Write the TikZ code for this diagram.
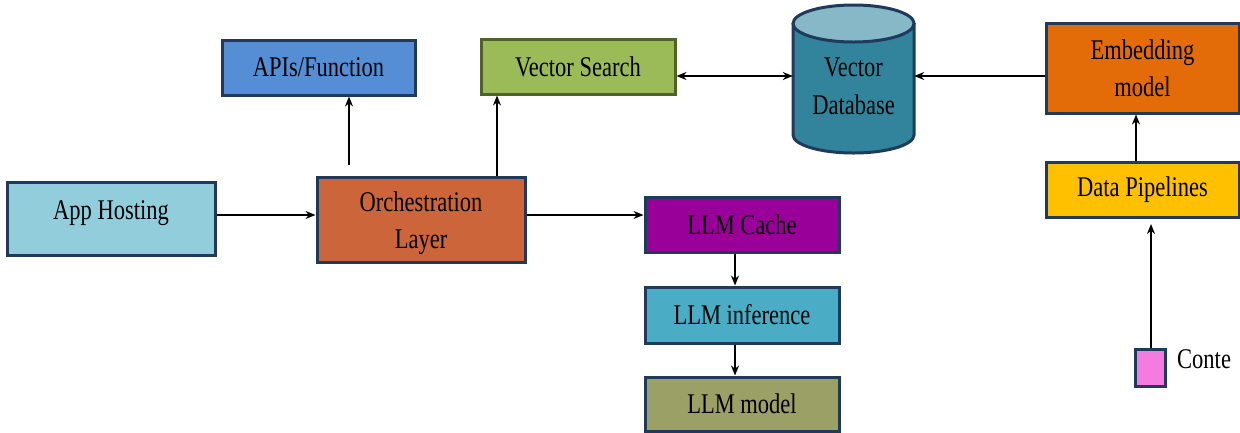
\documentclass[tikz,border=0pt]{standalone}
\usepackage{fontspec}
\setmainfont{Liberation Serif}[FakeStretch=0.79]
\usetikzlibrary{arrows.meta}
\definecolor{navy}{HTML}{1F3A5A}
\definecolor{dgreen}{HTML}{4F6228}
\definecolor{cApp}{HTML}{92CDDC}
\definecolor{cApi}{HTML}{558ED5}
\definecolor{cVS}{HTML}{9BBB59}
\definecolor{cOrch}{HTML}{CC653A}
\definecolor{cCache}{HTML}{990099}
\definecolor{cInf}{HTML}{4BACC6}
\definecolor{cModel}{HTML}{9BA066}
\definecolor{cEmb}{HTML}{E36C09}
\definecolor{cPipe}{HTML}{FFC000}
\definecolor{cDB}{HTML}{31849B}
\definecolor{cDBtop}{HTML}{86B8C8}
\definecolor{cPink}{HTML}{F47CE0}
\tikzset{
  box/.style={draw=navy, line width=3pt, inner sep=0pt, align=center,
    font=\fontsize{28.5}{37}\selectfont},
  boxtext/.style={inner sep=0pt, align=center, font=\fontsize{28.5}{37}\selectfont},
  arr/.style={-{Stealth[length=10pt,width=8pt]}, line width=1.5pt, black},
  darr/.style={{Stealth[length=10pt,width=8pt]}-{Stealth[length=10pt,width=8pt]}, line width=1.5pt, black}
}
\begin{document}
\begin{tikzpicture}[x=1pt,y=-1pt]
\useasboundingbox (0,0) rectangle (1240,432);
% boxes
\node[box, fill=cApi, minimum width=193pt, minimum height=55pt] (api) at (318.5,67.5) {APIs/Function};
\node[box, fill=cVS, draw=dgreen, minimum width=194pt, minimum height=55pt] (vs) at (578,66.5) {Vector Search};
\node[box, fill=cApp, minimum width=208pt, minimum height=73pt] (app) at (111,218.5) {};
\node[boxtext] (appt) at ([yshift=5pt]app.center) {App Hosting};
\node[box, fill=cOrch, minimum width=208pt, minimum height=85pt] (orch) at (421,219.5) {};
\node[boxtext] (orcht) at ([yshift=-4pt]orch.center) {Orchestration\\Layer};
\node[box, fill=cCache, minimum width=194pt, minimum height=55pt] (cache) at (742,224.5) {LLM Cache};
\node[box, fill=cInf, minimum width=194pt, minimum height=56pt] (inf) at (742,315) {LLM inference};
\node[box, fill=cModel, minimum width=194pt, minimum height=54pt] (model) at (742,404) {LLM model};
\node[box, fill=cEmb, minimum width=193pt, minimum height=90pt] (emb) at (1142.5,68) {Embedding\\model};
\node[box, fill=cPipe, minimum width=193pt, minimum height=55pt] (pipe) at (1142.5,189.5) {Data Pipelines};
\node[box, fill=cPink, minimum width=30pt, minimum height=37pt] (conte) at (1150.5,368) {};
\node[anchor=west, font=\fontsize{28.5}{30}\selectfont, inner sep=0pt] (contet) at (1177,359) {Conte};
% cylinder
\draw[navy, line width=3pt, fill=cDB] (793,23) -- (793,135) arc[start angle=180, end angle=0, x radius=60.5, y radius=18] -- (914,23);
\draw[navy, line width=3pt, fill=cDBtop] (853.5,23.5) ellipse[x radius=60.5, y radius=18.5];
\node[inner sep=0pt, minimum width=121pt, minimum height=148pt] (vdb) at (853.5,79) {};
\node[align=center, font=\fontsize{28.5}{38}\selectfont] (vdbt) at (853.5,86) {Vector\\Database};
% coordinates
\coordinate (apiStart) at (349,165);
\coordinate (conteTop) at (1151,349);
\coordinate (pipeGap) at (1151,224);
% arrows
\draw[arr] (app.east |- 0,215) -- (orch.west |- 0,215);
\draw[arr] (orch.east |- 0,215) -- (cache.west |- 0,215);
\draw[arr] (apiStart) -- (apiStart |- api.south);
\draw[arr] (orch.north -| 497,0) -- (vs.south -| 497,0);
\draw[darr] (vs.east |- 0,76) -- (vdb.west |- 0,76);
\draw[arr] (emb.west |- 0,76) -- (vdb.east |- 0,76);
\draw[arr] (pipe.north -| 1136,0) -- (emb.south -| 1136,0);
\draw[arr] (cache.south -| 735,0) -- (inf.north -| 735,0);
\draw[arr] (inf.south -| 735,0) -- (model.north -| 735,0);
\draw[arr] (conte.north -| conteTop) -- (pipeGap);
\end{tikzpicture}
\end{document}
